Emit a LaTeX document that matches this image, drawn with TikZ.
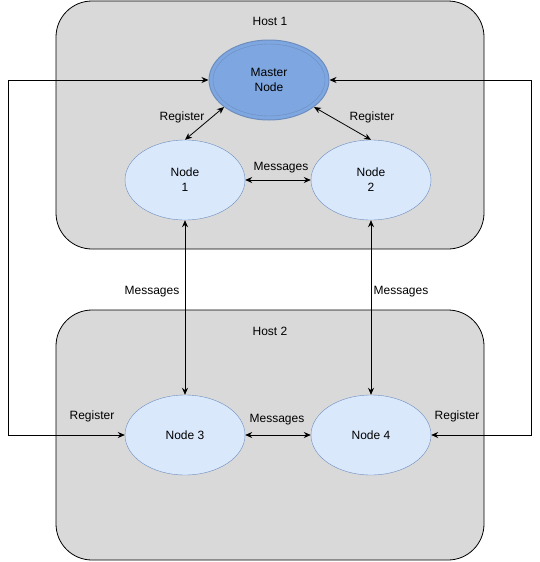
\documentclass[tikz,border=0pt]{standalone}
\usepackage{fontspec}
\setmainfont{Liberation Sans}
\usetikzlibrary{shapes.geometric,arrows.meta}
\definecolor{hostfill}{HTML}{D9D9D9}
\definecolor{nodefill}{HTML}{DAE8FC}
\definecolor{nodeline}{HTML}{6C8EBF}
\definecolor{masterfill}{HTML}{7EA6E0}
\tikzset{
  host/.style={draw=black, fill=hostfill, rounded corners=36pt, line width=0.8pt},
  pnode/.style={ellipse, draw=nodeline, fill=nodefill, minimum width=120pt, minimum height=80pt, inner sep=0pt, align=center, font=\fontsize{12}{15}\selectfont},
  mnode/.style={pnode, fill=masterfill, line width=1pt},
  lbl/.style={font=\fontsize{12}{14}\selectfont, inner sep=1pt},
  conn/.style={{Stealth[length=7pt,width=6pt]}-{Stealth[length=7pt,width=6pt]}, line width=0.8pt, black},
}
\begin{document}
\begin{tikzpicture}[x=1pt,y=-1pt]
\useasboundingbox (0,0) rectangle (540,562);
\draw[host] (56,1) rectangle (484,249);
\draw[host] (56,310) rectangle (484,560);
\node[lbl] (h1) at (270,21) {Host 1};
\node[lbl] (h2) at (270,331) {Host 2};
\node[mnode] (master) at (269,80) {Master\\Node};
\draw[nodeline] (master.center) ellipse [x radius=56, y radius=36];
\node[pnode] (n1) at (185,180) {Node\\1};
\node[pnode] (n2) at (371,180) {Node\\2};
\node[pnode] (n3) at (185,435) {Node 3};
\node[pnode] (n4) at (371,435) {Node 4};
\coordinate (lc) at (8,435);
\coordinate (rc) at (531,435);
\draw[conn] (n1.north) -- (master.211);
\draw[conn] (n2.north) -- (master.329);
\draw[conn] (n1.east) -- (n2.west);
\draw[conn] (n1.south) -- (n3.north);
\draw[conn] (n2.south) -- (n4.north);
\draw[conn] (n3.east) -- (n4.west);
\draw[conn] (n3.west) -- (lc) |- (master.west);
\draw[conn] (n4.east) -- (rc) |- (master.east);
\node[lbl] (r1) at (182,117) {Register};
\node[lbl] (r2) at (372,117) {Register};
\node[lbl] (m12) at (281,168) {Messages};
\node[lbl] (m13) at (152,292) {Messages};
\node[lbl] (m24) at (401,292) {Messages};
\node[lbl] (m34) at (277,420) {Messages};
\node[lbl] (r3) at (92,416) {Register};
\node[lbl] (r4) at (457,416) {Register};
\end{tikzpicture}
\end{document}
